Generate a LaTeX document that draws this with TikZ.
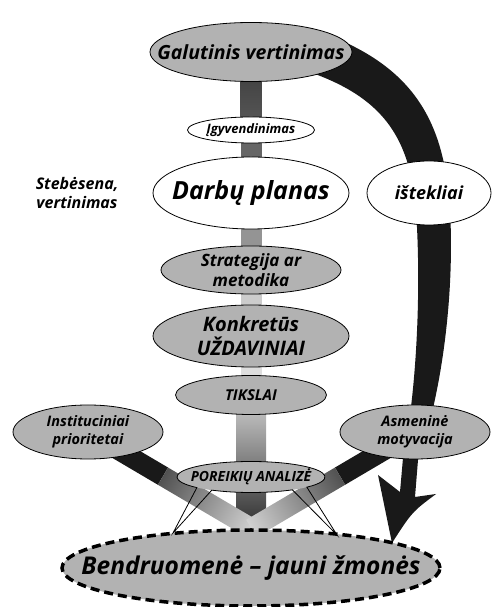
\documentclass[tikz,border=0pt]{standalone}
\usepackage{fontspec}
\setmainfont{Open Sans}
\usepackage{tikz}
\usetikzlibrary{shapes.geometric,positioning,calc,backgrounds}

\newcommand{\fnt}[2]{\fontsize{#1}{#2}\selectfont\bfseries\itshape}

\begin{document}
\begin{tikzpicture}[x=1pt,y=1pt,thick,node distance=70pt]
  \tikzstyle{box}=[ellipse,draw,fill=gray!60,inner xsep=-40pt,inner ysep=-10pt]
  \tikzstyle{wbox}=[box,fill=white]
  \useasboundingbox (0,0) rectangle (493,607);

  \node[box,minimum width=202,minimum height=59,font=\fnt{19.5}{23}] (galutinis) at (251,555) {Galutinis vertinimas};
  \node[wbox,minimum width=127,minimum height=26,font=\fnt{13}{15}] (igyv) [below of=galutinis,node distance=78pt] {Įgyvendinimas};
  \node[wbox,minimum width=196,minimum height=72,font=\fnt{25}{30}] (darbu) [below of=igyv,node distance=63pt] {Darbų planas};
  \node[box,minimum width=180,minimum height=48,align=center,font=\fnt{17}{20}] (strategija) [below of=darbu,node distance=77pt] {Strategija ar\\metodika};
  \node[box,minimum width=196,minimum height=62,align=center,font=\fnt{20}{24}] (konkretus) [below of=strategija,node distance=66pt] {Konkretūs\\UŽDAVINIAI};
  \node[box,minimum width=151,minimum height=39,font=\fnt{15}{18}] (tikslai) [below of=konkretus,node distance=59pt] {TIKSLAI};
  \node[box,minimum width=378,minimum height=76,line width=3.5pt,dash pattern=on 9pt off 5pt,font=\fnt{24.5}{29}] (bendr) [below of=tikslai,node distance=173pt] {Bendruomenė – jauni žmonės};
  \node[box,draw=none,minimum width=148,minimum height=31,font=\fnt{14}{17}] (needs) [above of=bendr,node distance=91pt] {POREIKIŲ ANALIZĖ};
  \node[wbox,minimum width=124,minimum height=64,font=\fnt{18}{21}] (istekliai) [right of=darbu,node distance=178pt] {ištekliai};
  \node[align=center,font=\fnt{16}{19}] (stebesena) [left of=darbu,node distance=174pt] {Stebėsena,\\vertinimas};
  \node[box,minimum width=150,minimum height=54,align=center,font=\fnt{14.5}{18}] (instit) at (88,175) {Instituciniai\\prioritetai};
  \node[box,minimum width=150,minimum height=54,align=center,font=\fnt{14.5}{18}] (asmen) at (415,175) {Asmeninė\\motyvacija};

  % callout outline with two tails
  \coordinate (ltail) at (173,74);
  \coordinate (rtail) at (337,72);
  \draw ($(needs.center)+(319:74 and 15.5)$) arc[start angle=319,end angle=583,x radius=74,y radius=15.5]
    -- (ltail) -- ($(needs.center)+(238:74 and 15.5)$) arc[start angle=238,end angle=304,x radius=74,y radius=15.5]
    -- (rtail) -- cycle;

  \begin{scope}[on background layer]
    % column
    \shade[top color=black!78,bottom color=black!65] ($(galutinis.center)+(-10.5,0)$) rectangle ($(igyv.center)+(10.5,0)$);
    \fill[black!60] ($(igyv.center)+(-10.5,0)$) rectangle ($(darbu.center)+(10.5,0)$);
    \fill[black!42] ($(darbu.center)+(-10.5,0)$) rectangle ($(strategija.center)+(10.5,0)$);
    \fill[black!20] ($(strategija.center)+(-10.5,0)$) rectangle ($(konkretus.center)+(10.5,0)$);
    \fill[black!13] ($(konkretus.center)+(-10.5,0)$) rectangle ($(tikslai.center)+(10.5,0)$);
    \shade[top color=black!18,bottom color=black!82] ($(tikslai.center)+(-15,0)$) rectangle ($(bendr.north)+(15,0)$);
    % side bands
    \begin{scope}[transform canvas={shift={(instit.center)},rotate=-30.5}]
      \fill[black!90] (0,-10) rectangle (87,10);
      \shade[left color=black!68,right color=black!18] (87,-10) rectangle (190,10);
    \end{scope}
    \begin{scope}[transform canvas={shift={(asmen.center)},rotate=-149.5}]
      \fill[black!90] (0,-10) rectangle (87,10);
      \shade[left color=black!68,right color=black!18] (87,-10) rectangle (190,10);
    \end{scope}
    % resources arrow
    \fill[black!90] (340,567) .. controls (420,532) and (445,477) .. (450,397)
      .. controls (455,307) and (440,207) .. (418,147) -- (415,110) -- (436,113)
      .. controls (412,95) .. (392,64) -- (378,132) -- (400,115) -- (403,149)
      .. controls (415,207) and (422,307) .. (416,397)
      .. controls (410,467) and (385,507) .. (315,533) -- cycle;
  \end{scope}
\end{tikzpicture}
\end{document}
